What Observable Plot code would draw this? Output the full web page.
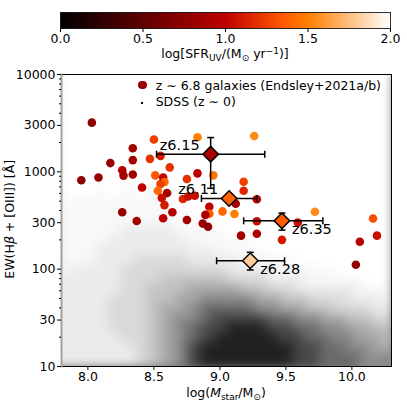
<!DOCTYPE html>
<html><head><meta charset="utf-8">
<script src="https://cdn.jsdelivr.net/npm/d3@7"></script>
<script src="https://cdn.jsdelivr.net/npm/@observablehq/plot@0.6"></script>
<style>
body{margin:0;background:#fff;font-family:"DejaVu Sans",sans-serif;}
#wrap{position:relative;width:407px;height:407px;overflow:hidden;}
#wrap svg{position:absolute;left:0;top:0;background:transparent;}
.lab{position:absolute;white-space:nowrap;font-size:12.5px;line-height:12.5px;color:#000;font-family:"DejaVu Sans",sans-serif;}
.sb{position:relative;top:0.28em;font-size:0.72em;}
.sp{position:relative;top:-0.45em;font-size:0.72em;}
</style></head>
<body><div id="wrap"></div>
<script>
// ---- z~6.8 galaxies (Endsley+2021a/b) ----
const galMass = [8.03,8.50,8.34,8.47,8.55,8.17,8.34,8.26,8.27,8.34,8.62,7.95,8.08,8.51,8.57,8.58,8.55,8.41,8.60,8.53,8.56,8.58,8.26,8.64,8.57,8.37,8.83,9.26,8.75,8.83,8.95,9.18,9.18,8.72,8.76,8.81,9.12,9.28,8.92,8.92,9.02,9.11,8.89,8.75,8.87,8.91,9.28,9.59,9.72,9.28,9.47,10.16,10.19,10.06,10.03,9.16];
const galEW   = [3200,2150,1750,1360,1460,1230,1320,1040,915,940,1110,820,875,920,875,785,750,690,605,640,540,455,385,385,333,312,2270,2330,845,965,920,790,640,525,557,567,470,522,438,371,392,369,361,320,294,273,311,302,389,231,200,332,221,191,111,221];
const galSFR  = [0.75,1.25,0.85,1.2,1.1,0.8,0.85,0.95,0.85,0.85,1.2,0.75,0.8,1.35,1.0,1.4,1.25,1.0,0.85,1.4,1.05,1.1,0.8,0.95,1.0,0.85,1.5,1.55,1.2,1.0,1.45,1.25,1.15,1.15,1.05,1.05,0.85,1.0,1.0,1.35,1.4,1.5,0.9,0.85,0.8,0.75,1.05,1.05,1.55,0.9,1.1,1.3,1.05,0.95,0.75,0.85];

// ---- highlighted objects with error bars ----
const objNames  = ["z6.15","z6.11","z6.35","z6.28"];
const objMass   = [8.93,9.07,9.47,9.23];
const objMassLo = [8.52,8.86,9.18,8.975];
const objMassHi = [9.34,9.28,9.78,9.49];
const objEW     = [1520,532,314,122];
const objEWLo   = [677,500,252,98];
const objEWHi   = [2250,565,377,149];
const objSFR    = [0.89,1.38,1.36,1.8];

// ---- SDSS (z~0) density: digit = density level 0-9 ----
const sdssMass = [7.8,7.9,8.0,8.1,8.2,8.3,8.4,8.5,8.6,8.7,8.8,8.9,9.0,9.1,9.2,9.3,9.4,9.5,9.6,9.7,9.8,9.9,10.0,10.1,10.2,10.3];
const sdssLogEW = [4.0,3.0,2.8,2.7,2.6,2.5,2.4,2.3,2.2,2.1,2.0,1.9,1.8,1.7,1.6,1.5,1.4,1.3,1.2,1.1,1.0];
const sdssLevels = [
  "00000000000000000000000000",
  "00000000000000000000000000",
  "00010101000000000000000000",
  "01111111100000000000000000",
  "11111111110000000000000000",
  "11111111111100000000000000",
  "11111222211110000000000000",
  "11112222221111100000000000",
  "11122222222211110000000000",
  "11122233332222111100000000",
  "12222333333332221111100000",
  "22222333444443332221111000",
  "22222334445555443322222111",
  "22223334455666655443332221",
  "22223334556777766554433322",
  "22223334566788887766554433",
  "22223334567889998877665544",
  "22222334567899999887766554",
  "22222234568999999988776655",
  "22222234568999999988777666",
  "22222234568999999988777666"
];

const yTicks = [10,30,100,300,1000,3000,10000];
const yMinor = [20,40,50,60,70,80,90,200,400,500,600,700,800,900,2000,4000,5000,6000,7000,8000,9000];
const xTicks = [8.0,8.5,9.0,9.5,10.0];
const cbarTicks = [0.0,0.5,1.0,1.5,2.0];

// ---- build tables ----
const gal = galMass.map((m,i)=>({mass:m, ew:galEW[i], sfr:galSFR[i]}));
const obj = objNames.map((n,i)=>({name:n, mass:objMass[i], lo:objMassLo[i], hi:objMassHi[i], ew:objEW[i], ewLo:objEWLo[i], ewHi:objEWHi[i], sfr:objSFR[i]}));
const sdss = [];
sdssLogEW.forEach((ly,i)=>sdssMass.forEach((m,j)=>sdss.push({mass:m, ew:Math.pow(10,ly), d:+sdssLevels[i][j]})));

const cl = v => Math.max(0, Math.min(1, v));
const gistHeat = t => `rgb(${Math.round(255*cl(1.5*t))},${Math.round(255*cl(2*t-1))},${Math.round(255*cl(4*t-3))})`;
const colorScale = {type:"linear", domain:[0,2], interpolate:gistHeat};

const vbar = {draw(ctx){ctx.moveTo(0,-3.5);ctx.lineTo(0,3.5);}};
const hbar = {draw(ctx){ctx.moveTo(-3.5,0);ctx.lineTo(3.5,0);}};
const font = {fontFamily:"DejaVu Sans", fontSize:"12.5px", color:"black", background:"transparent"};

const chart = Plot.plot({
  width:407, height:407, marginLeft:61, marginRight:16, marginTop:74, marginBottom:41,
  style:font,
  x:{domain:[7.8,10.3]},
  y:{type:"log", domain:[10,10000]},
  color:colorScale,
  opacity:{type:"pow", exponent:1.6, domain:[0,9], range:[0,0.87]},
  marks:[
    Plot.raster(sdss, {x:"mass", y:"ew", fill:"black", fillOpacity:"d", interpolate:"barycentric", pixelSize:1,
      x1:7.72, x2:10.38, y1:8.5, y2:10000, clip:true}),
    Plot.dot(gal, {x:"mass", y:"ew", fill:"sfr", r:4.3}),
    Plot.link(obj, {x1:"lo", x2:"hi", y1:"ew", y2:"ew", stroke:"black", strokeWidth:1.5}),
    Plot.link(obj, {x1:"mass", x2:"mass", y1:"ewLo", y2:"ewHi", stroke:"black", strokeWidth:1.5}),
    Plot.dot(obj, {x:"lo", y:"ew", symbol:vbar, fill:"none", stroke:"black", strokeWidth:1.5}),
    Plot.dot(obj, {x:"hi", y:"ew", symbol:vbar, fill:"none", stroke:"black", strokeWidth:1.5}),
    Plot.dot(obj, {x:"mass", y:"ewLo", symbol:hbar, fill:"none", stroke:"black", strokeWidth:1.5}),
    Plot.dot(obj, {x:"mass", y:"ewHi", symbol:hbar, fill:"none", stroke:"black", strokeWidth:1.5}),
    Plot.dot(obj, {x:"mass", y:"ew", symbol:"diamond2", r:7, fill:"sfr", stroke:"black", strokeWidth:1.5}),
    Plot.text(obj, {filter:d=>["z6.15","z6.11"].includes(d.name), x:"mass", y:"ew", text:"name", textAnchor:"end", dx:-11, dy:-9, fontSize:14.5, fill:"black"}),
    Plot.text(obj, {filter:d=>["z6.35","z6.28"].includes(d.name), x:"mass", y:"ew", text:"name", textAnchor:"start", dx:10, dy:8.5, fontSize:14.5, fill:"black"}),
    Plot.frame({stroke:"black", strokeWidth:1}),
    Plot.frame({anchor:"left", stroke:"#a0a0a0", strokeWidth:2}),
    Plot.axisX({ticks:xTicks, tickFormat:d3.format(".1f"), tickSize:4, tickPadding:2, label:null}),
    Plot.axisY({ticks:yTicks, tickFormat:d=>String(d), tickSize:4, tickPadding:2, label:null}),
    Plot.axisY({ticks:yMinor, tickFormat:()=>"", tickSize:2, label:null})
  ]
});
chart.querySelectorAll("image").forEach(im => im.style.filter = "blur(4px)");

const cbar = Plot.plot({
  width:407, height:52, marginLeft:60, marginRight:17, marginTop:12, marginBottom:24,
  style:font,
  x:{domain:[0,2]},
  y:{domain:[0,1], axis:null},
  color:colorScale,
  marks:[
    Plot.raster({x1:0, x2:2, y1:0, y2:1, fill:(x,y)=>x, pixelSize:1}),
    Plot.frame({stroke:"black", strokeWidth:0.8}),
    Plot.axisX({ticks:cbarTicks, tickFormat:d3.format(".1f"), tickSize:4, tickPadding:2, label:null})
  ]
});

const wrap = document.getElementById("wrap");
wrap.appendChild(chart);
wrap.appendChild(cbar);

function addLabel(html, css){
  const d = document.createElement("div");
  d.className = "lab";
  d.innerHTML = html;
  Object.assign(d.style, css);
  wrap.appendChild(d);
  return d;
}
addLabel('log[SFR<span class="sb">UV</span>/(M<span class="sb">⊙</span> yr<span class="sp">−1</span>)]',
  {left:"75px", width:"300px", textAlign:"center", top:"48px"});
addLabel('log(<i>M</i><span class="sb">star</span>/M<span class="sb">⊙</span>)',
  {left:"76px", width:"300px", textAlign:"center", top:"387px"});
addLabel('EW(H<i>β</i> + [OIII]) [Å]',
  {left:(9.7-150)+"px", width:"300px", textAlign:"center", top:(219-6.25)+"px", transform:"rotate(-90deg)", transformOrigin:"50% 50%"});
// legend
const leg1 = document.createElement("div");
Object.assign(leg1.style, {position:"absolute", left:(142.7-4.3)+"px", top:(85-4.3)+"px", width:"8.6px", height:"8.6px", borderRadius:"50%", background:gistHeat(0.4)});
wrap.appendChild(leg1);
const leg2 = document.createElement("div");
Object.assign(leg2.style, {position:"absolute", left:"141px", top:"102px", width:"1.5px", height:"1.5px", background:"#000"});
wrap.appendChild(leg2);
addLabel('z ∼ 6.8 galaxies (Endsley+2021a/b)', {left:"155.7px", top:"79.6px"});
addLabel('SDSS (z ∼ 0)', {left:"155.7px", top:"95.6px"});
</script>
</body></html>
